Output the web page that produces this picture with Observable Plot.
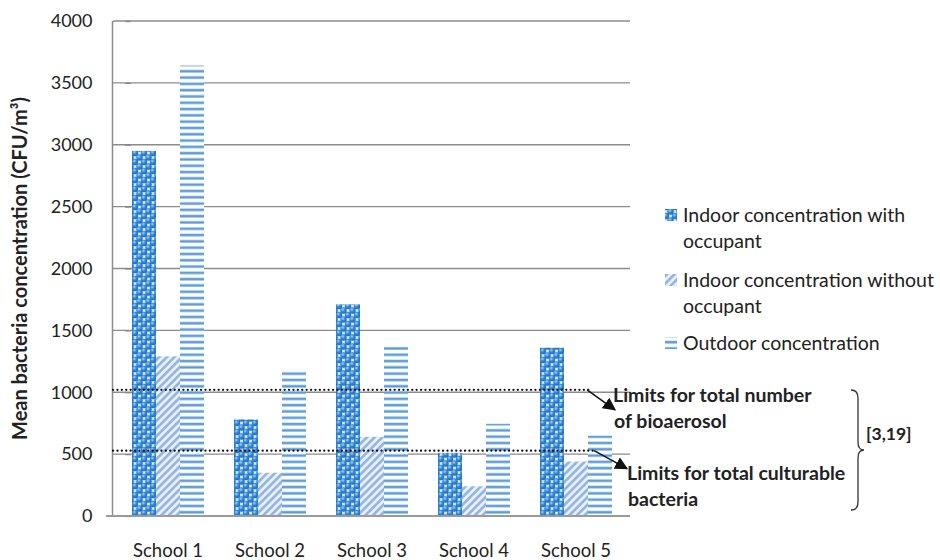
<!DOCTYPE html>
<html><head><meta charset="utf-8">
<script src="https://cdn.jsdelivr.net/npm/d3@7"></script>
<script src="https://cdn.jsdelivr.net/npm/@observablehq/plot@0.6"></script>
<style>body{margin:0;background:#fff;} svg{display:block;}</style>
</head><body><div id="chart"></div>
<script>
// ---- data ----
const schools = ["School 1", "School 2", "School 3", "School 4", "School 5"];
const seriesNames = ["Indoor concentration with occupant", "Indoor concentration without occupant", "Outdoor concentration"];
const withOccupant = [2950, 780, 1710, 510, 1360];
const withoutOccupant = [1290, 350, 640, 240, 440];
const outdoor = [3640, 1170, 1370, 745, 650];
const yTicks = [0, 500, 1000, 1500, 2000, 2500, 3000, 3500, 4000];
const limitValues = [1020, 528];
const limitLabels = [["Limits for total number", "of bioaerosol"], ["Limits for total culturable", "bacteria"]];
const legendLines = [["Indoor concentration with", "occupant"], ["Indoor concentration without", "occupant"], ["Outdoor concentration"]];
const referenceLabel = "[3,19]";
const yTitle = "Mean bacteria concentration (CFU/m\u00B3)";

const patternIds = ["pWith", "pWithout", "pOut"];
const seriesValues = [withOccupant, withoutOccupant, outdoor];
const data = schools.flatMap((s, i) => seriesNames.map((n, k) => ({school: s, series: n, value: seriesValues[k][i], pat: patternIds[k]})));

const W = 940, H = 560;
const FONT = "Lato, 'Open Sans', sans-serif";

const plot = Plot.plot({
  width: W, height: H,
  marginLeft: 113, marginRight: 310, marginTop: 21, marginBottom: 44,
  style: {fontFamily: FONT, fontSize: "16px", color: "#222", background: "white"},
  fx: {domain: schools, paddingInner: 0.28, paddingOuter: 0.15, label: null},
  x: {domain: seriesNames, padding: 0, axis: null},
  y: {domain: [0, 4000], label: null},
  color: {type: "identity"},
  marks: [
    Plot.barY(data, {fx: "school", x: "series", y: "value", fill: d => `url(#${d.pat})`}),
    Plot.axisY({ticks: yTicks, tickFormat: d => String(d), tickSize: 6, tickPadding: 33, fontSize: 18, label: null, stroke: "#888", strokeWidth: 1.3, color: "#222"}),
    Plot.axisFx({anchor: "bottom", tickSize: 0, tickPadding: 27, fontSize: 18.5, label: null, color: "#222"})
  ]
});

const svg = d3.select(plot);
const y = plot.scale("y");
const fx = plot.scale("fx");
const left = 113, right = W - 310;

// defs / patterns
const defs = svg.insert("defs", ":first-child");
{
  const rg = defs.append("radialGradient").attr("id", "ball").attr("cx", "40%").attr("cy", "35%").attr("r", "65%");
  rg.append("stop").attr("offset", "0%").attr("stop-color", "#9fd3f6");
  rg.append("stop").attr("offset", "50%").attr("stop-color", "#2a8ad8");
  rg.append("stop").attr("offset", "100%").attr("stop-color", "#1a6cbb");
  const p1 = defs.append("pattern").attr("id", "pWith").attr("patternUnits", "userSpaceOnUse").attr("width", 9).attr("height", 9);
  p1.append("rect").attr("width", 9).attr("height", 9).attr("fill", "#f0e0f2");
  for (const [cx, cy] of [[0, 0], [9, 0], [0, 9], [9, 9], [4.5, 4.5]])
    p1.append("circle").attr("cx", cx).attr("cy", cy).attr("r", 3.2).attr("fill", "url(#ball)");
  const p2 = defs.append("pattern").attr("id", "pWithout").attr("patternUnits", "userSpaceOnUse").attr("width", 5.4).attr("height", 5.4).attr("patternTransform", "rotate(45)");
  p2.append("rect").attr("width", 5.4).attr("height", 5.4).attr("fill", "#f1ecf7");
  p2.append("rect").attr("width", 2.6).attr("height", 5.4).attr("fill", "#8ab8e6");
  const p3 = defs.append("pattern").attr("id", "pOut").attr("patternUnits", "userSpaceOnUse").attr("width", 8).attr("height", 6.3);
  p3.append("rect").attr("width", 8).attr("height", 6.3).attr("fill", "#ffffff");
  p3.append("rect").attr("y", 0.3).attr("width", 8).attr("height", 3.2).attr("fill", "#b9d4f0");
  p3.append("rect").attr("y", 1).attr("width", 8).attr("height", 2).attr("fill", "#5b9bd8");
  const m = defs.append("marker").attr("id", "arrow").attr("viewBox", "0 0 10 10").attr("refX", 9).attr("refY", 5)
    .attr("markerWidth", 13).attr("markerHeight", 13).attr("markerUnits", "userSpaceOnUse").attr("orient", "auto");
  m.append("path").attr("d", "M0,0 L10,5 L0,10 Z").attr("fill", "#111");
}

// gridlines behind bars
const grid = svg.insert("g", "defs + *").attr("stroke", "#8c8c8c").attr("stroke-width", 1.3);
for (const t of yTicks.slice(1)) grid.append("line").attr("x1", left).attr("x2", right).attr("y1", y.apply(t)).attr("y2", y.apply(t));

const over = svg.append("g").attr("text-anchor", "start");
// axis lines
over.append("line").attr("x1", left - 0.5).attr("x2", left - 0.5).attr("y1", y.apply(4000)).attr("y2", y.apply(0)).attr("stroke", "#8c8c8c").attr("stroke-width", 1.5);
over.append("line").attr("x1", left - 7).attr("x2", right).attr("y1", y.apply(0)).attr("y2", y.apply(0)).attr("stroke", "#9a9a9a").attr("stroke-width", 2);

// limit lines
const lineEnd = fx.apply("School 5") + fx.bandwidth * 0.7;
limitValues.forEach((v, i) => {
  over.append("line").attr("x1", left).attr("x2", lineEnd + i * 4).attr("y1", y.apply(v)).attr("y2", y.apply(v))
    .attr("stroke", "#111").attr("stroke-width", 2.2).attr("stroke-linecap", "round").attr("stroke-dasharray", "0.1 4.3");
});
// arrows
const arrows = [[lineEnd - 3, y.apply(limitValues[0]), 615, y.apply(limitValues[0]) + 20], [lineEnd + 4, y.apply(limitValues[1]), 627, y.apply(limitValues[1]) + 18]];
for (const [x1, y1, x2, y2] of arrows)
  over.append("line").attr("x1", x1).attr("y1", y1).attr("x2", x2).attr("y2", y2).attr("stroke", "#111").attr("stroke-width", 1.5).attr("marker-end", "url(#arrow)");

// limit labels
const labelPos = [[613, 402], [627, 480]];
limitLabels.forEach((lines, i) => {
  const t = over.append("text").attr("font-family", FONT).attr("font-weight", "bold").attr("font-size", 19.5).attr("fill", "#222");
  lines.forEach((s, j) => t.append("tspan").attr("x", labelPos[i][0] + (j ? 1 : 0)).attr("y", labelPos[i][1] + j * 25.5).text(s));
});

// brace and reference
over.append("path").attr("d", "M851,390 q7,0 7,8 L858,442 q0,8 6,8 q-6,0 -6,8 L858,502 q0,8 -7,8")
  .attr("fill", "none").attr("stroke", "#333").attr("stroke-width", 1.3);
over.append("text").attr("x", 866).attr("y", 440).attr("font-family", FONT).attr("font-weight", "bold").attr("font-size", 17.5).attr("fill", "#222").text(referenceLabel);

// y title
over.append("text").attr("transform", `translate(27,${(y.apply(0) + y.apply(4000)) / 2}) rotate(-90)`).attr("text-anchor", "middle")
  .attr("font-family", FONT).attr("font-weight", "bold").attr("font-size", 20).attr("fill", "#222").text(yTitle);

// legend
const legTop = [222, 287, 350];
legendLines.forEach((lines, i) => {
  over.append("rect").attr("x", 665).attr("y", legTop[i] - 13).attr("width", 12).attr("height", 12).attr("fill", `url(#${patternIds[i]})`);
  const t = over.append("text").attr("font-family", FONT).attr("font-size", 19.5).attr("fill", "#222");
  lines.forEach((s, j) => t.append("tspan").attr("x", 683).attr("y", legTop[i] + j * 25.5).text(s));
});

document.getElementById("chart").append(plot);
</script>
</body></html>
